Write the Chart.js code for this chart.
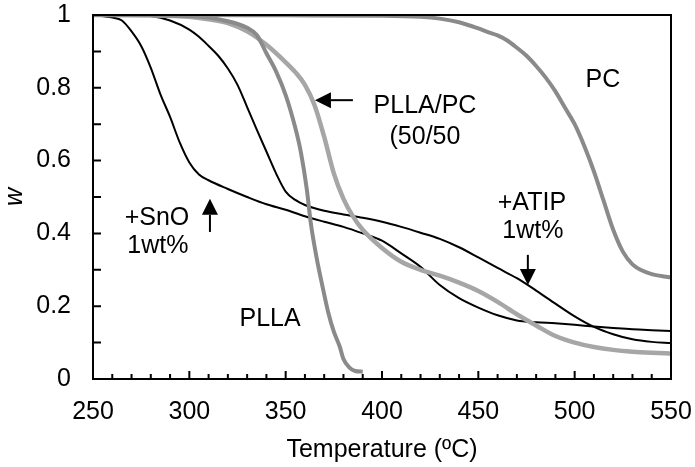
<!DOCTYPE html>
<html>
<head>
<meta charset="utf-8">
<script src="https://cdn.jsdelivr.net/npm/chart.js@4.4.0/dist/chart.umd.min.js"></script>
<style>
  body { margin: 0; background: #fff; }
  #wrap { width: 695px; height: 467px; }
</style>
</head>
<body>
<div id="wrap"><canvas id="chartTGA"></canvas></div>
<script>
// temperature (ºC) and residual weight fraction w
const pllaT = [250, 300, 320, 330, 335, 340, 345, 350, 355, 358, 361, 363, 366, 369.5, 372, 375, 378, 380, 383, 386, 390];
const pllaW = [1.0, 0.997, 0.983, 0.965, 0.945, 0.895, 0.845, 0.78, 0.69, 0.62, 0.52, 0.43, 0.335, 0.245, 0.185, 0.13, 0.09, 0.055, 0.032, 0.022, 0.02];

const blendT = [250, 280, 300, 310, 320, 330, 340, 350, 355, 360, 365, 370, 375, 380, 385, 390, 400, 410, 420, 430, 440, 450, 460, 470, 480, 490, 500, 510, 520, 530, 540, 550];
const blendW = [1.0, 0.999, 0.995, 0.988, 0.978, 0.955, 0.918, 0.87, 0.843, 0.808, 0.752, 0.665, 0.565, 0.495, 0.446, 0.41, 0.36, 0.322, 0.30, 0.284, 0.265, 0.242, 0.212, 0.178, 0.147, 0.118, 0.10, 0.088, 0.08, 0.075, 0.072, 0.07];

const pcT = [250, 300, 350, 400, 420, 430, 440, 450, 455, 460, 465, 470, 475, 480, 485, 490, 495, 500, 505, 510, 515, 520, 525, 530, 535, 540, 545, 550];
const pcW = [1.0, 1.0, 0.999, 0.998, 0.995, 0.99, 0.98, 0.963, 0.953, 0.944, 0.93, 0.91, 0.888, 0.86, 0.828, 0.79, 0.745, 0.70, 0.64, 0.57, 0.49, 0.41, 0.35, 0.315, 0.298, 0.288, 0.283, 0.279];

const snoT = [250, 260, 265, 270, 275, 280, 285, 290, 295, 300, 305, 310, 320, 330, 340, 350, 360, 370, 380, 390, 400, 410, 420, 430, 440, 450, 460, 470, 480, 490, 500, 510, 520, 530, 540, 550];
const snoW = [1.0, 0.993, 0.985, 0.955, 0.915, 0.855, 0.782, 0.72, 0.65, 0.595, 0.562, 0.546, 0.522, 0.50, 0.48, 0.465, 0.447, 0.432, 0.418, 0.40, 0.38, 0.345, 0.308, 0.258, 0.222, 0.196, 0.175, 0.161, 0.156, 0.153, 0.149, 0.144, 0.14, 0.137, 0.134, 0.132];

const atipT = [250, 270, 280, 290, 300, 305, 310, 315, 320, 325, 330, 335, 340, 345, 350, 355, 360, 370, 380, 390, 400, 410, 420, 430, 440, 450, 460, 470, 480, 490, 500, 510, 520, 530, 540, 550];
const atipW = [1.0, 0.999, 0.997, 0.985, 0.96, 0.94, 0.915, 0.888, 0.853, 0.808, 0.747, 0.685, 0.625, 0.565, 0.515, 0.492, 0.478, 0.462, 0.452, 0.443, 0.432, 0.418, 0.402, 0.385, 0.362, 0.334, 0.305, 0.277, 0.243, 0.207, 0.172, 0.143, 0.123, 0.109, 0.102, 0.099];

const xTicks = [250, 300, 350, 400, 450, 500, 550];
const yTicks = [0, 0.2, 0.4, 0.6, 0.8, 1];

const FONT = "'Liberation Sans', Arial, sans-serif";

// text labels and arrows placed in data units
const notes = [
    { text: "PC", x: 514.7, y: 0.821 },
    { text: "PLLA/PC", x: 422.3, y: 0.75 },
    { text: "(50/50", x: 422.3, y: 0.665 },
    { text: "PLLA", x: 341.9, y: 0.165 },
    { text: "+SnO", x: 283.2, y: 0.442 },
    { text: "1wt%", x: 283.7, y: 0.365 },
    { text: "+ATIP", x: 477.8, y: 0.484 },
    { text: "1wt%", x: 478.3, y: 0.407 }
];
const arrows = [
    { from: [384.9, 0.766], to: [365.2, 0.766] },
    { from: [310.7, 0.404], to: [310.7, 0.495] },
    { from: [475.7, 0.341], to: [475.7, 0.258] }
];

function toPoints(xs, ys) {
    return xs.map((t, i) => ({ x: t, y: ys[i] }));
}

function drawArrow(ctx, x1, y1, x2, y2) {
    const ang = Math.atan2(y2 - y1, x2 - x1);
    const len = 16, half = 8;
    const bx = x2 - len * Math.cos(ang);
    const by = y2 - len * Math.sin(ang);
    ctx.beginPath();
    ctx.moveTo(x1, y1);
    ctx.lineTo(bx, by);
    ctx.stroke();
    ctx.beginPath();
    ctx.moveTo(x2, y2);
    ctx.lineTo(bx + half * Math.sin(ang), by - half * Math.cos(ang));
    ctx.lineTo(bx - half * Math.sin(ang), by + half * Math.cos(ang));
    ctx.closePath();
    ctx.fill();
}

const decorPlugin = {
    id: "decor",
    afterDatasetsDraw(chart) {
        const { ctx, chartArea: a, scales: { x, y } } = chart;
        ctx.save();
        ctx.strokeStyle = "#000";
        ctx.fillStyle = "#000";
        ctx.lineWidth = 2;
        ctx.strokeRect(a.left, a.top, a.right - a.left, a.bottom - a.top);

        // inward tick marks, minor every 10 ºC and 0.1
        ctx.beginPath();
        for (let v = xTicks[0]; v <= xTicks[xTicks.length - 1]; v += 10) {
            const px = x.getPixelForValue(v);
            const l = xTicks.includes(v) ? 8 : 5;
            ctx.moveTo(px, a.bottom);
            ctx.lineTo(px, a.bottom - l);
        }
        for (let i = 1; i < 10; i++) {
            const py = y.getPixelForValue(i / 10);
            ctx.moveTo(a.left, py);
            ctx.lineTo(a.left + 8, py);
        }
        ctx.stroke();

        ctx.font = "25px " + FONT;
        ctx.textAlign = "center";
        ctx.textBaseline = "middle";
        notes.forEach(n => {
            ctx.fillText(n.text, x.getPixelForValue(n.x), y.getPixelForValue(n.y));
        });
        arrows.forEach(ar => {
            drawArrow(ctx,
                x.getPixelForValue(ar.from[0]), y.getPixelForValue(ar.from[1]),
                x.getPixelForValue(ar.to[0]), y.getPixelForValue(ar.to[1]));
        });
        ctx.restore();
    }
};

document.addEventListener("DOMContentLoaded", () => {
    const ctx = document.getElementById("chartTGA");

    new Chart(ctx, {
        type: "line",
        data: {
            datasets: [
                { label: "PLLA", data: toPoints(pllaT, pllaW), borderColor: "#8a8a8a", borderWidth: 4 },
                { label: "PLLA/PC (50/50)", data: toPoints(blendT, blendW), borderColor: "#a6a6a6", borderWidth: 4.5 },
                { label: "PC", data: toPoints(pcT, pcW), borderColor: "#8a8a8a", borderWidth: 4 },
                { label: "+SnO 1wt%", data: toPoints(snoT, snoW), borderColor: "#000", borderWidth: 2 },
                { label: "+ATIP 1wt%", data: toPoints(atipT, atipW), borderColor: "#000", borderWidth: 2 }
            ]
        },
        options: {
            responsive: true,
            maintainAspectRatio: false,
            animation: false,
            layout: { padding: { left: 0, right: 24, top: 15, bottom: 0 } },
            elements: {
                point: { radius: 0 },
                line: { cubicInterpolationMode: "monotone", fill: false }
            },
            plugins: {
                legend: { display: false },
                tooltip: { enabled: false }
            },
            scales: {
                x: {
                    type: "linear",
                    min: 250,
                    max: 550,
                    afterBuildTicks: s => { s.ticks = xTicks.map(v => ({ value: v })); },
                    afterFit: s => {
                        s.height = 88;
                        s.paddingLeft = 0;
                        s.paddingRight = 0;
                    },
                    grid: { display: false, drawTicks: false },
                    border: { display: false },
                    ticks: { color: "#000", padding: 18, font: { size: 25, family: FONT }, maxRotation: 0 },
                    title: {
                        display: true,
                        text: "Temperature (ºC)",
                        color: "#000",
                        font: { size: 25, family: FONT },
                        padding: { top: 0, bottom: 2 }
                    }
                },
                y: {
                    min: 0,
                    max: 1,
                    afterBuildTicks: s => { s.ticks = yTicks.map(v => ({ value: v })); },
                    afterFit: s => {
                        s.width = 93;
                        s.paddingTop = 0;
                        s.paddingBottom = 0;
                    },
                    grid: { display: false, drawTicks: false },
                    border: { display: false },
                    ticks: {
                        color: "#000",
                        padding: 22,
                        font: { size: 25, family: FONT },
                        callback: v => String(v)
                    },
                    title: {
                        display: true,
                        text: "w",
                        color: "#000",
                        font: { size: 25, family: FONT, style: "italic" },
                        padding: { top: 0, bottom: 0 }
                    }
                }
            }
        },
        plugins: [decorPlugin]
    });
});
</script>
</body>
</html>
